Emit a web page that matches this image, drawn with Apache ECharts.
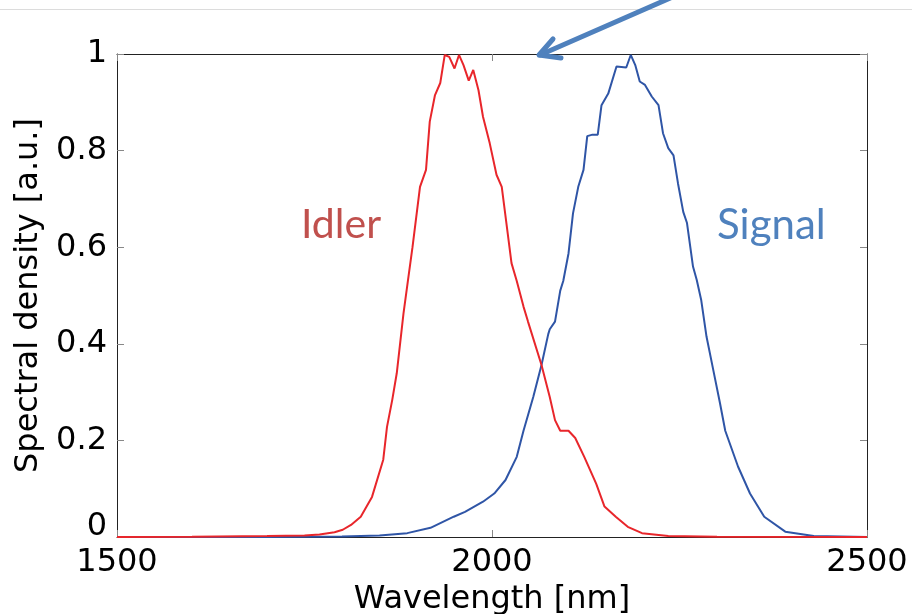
<!DOCTYPE html>
<html>
<head>
<meta charset="utf-8">
<script src="https://cdn.jsdelivr.net/npm/echarts@6/dist/echarts.min.js"></script>
<style>
  html, body { margin: 0; padding: 0; background: #ffffff; }
  #chart { width: 912px; height: 614px; }
</style>
</head>
<body>
<div id="chart"></div>
<script>
// Idler spectrum: wavelength (nm) and normalised spectral density
const idlerWavelength = [1500, 1600, 1700, 1750, 1770, 1790, 1801, 1812, 1825, 1840, 1855, 1860, 1867, 1873, 1882, 1888, 1894, 1904, 1912, 1917, 1924, 1931, 1937, 1943, 1950, 1956, 1962, 1969, 1975, 1982, 1988, 1997, 2006, 2013, 2020, 2026, 2033, 2042, 2048, 2066, 2077, 2084, 2091, 2102, 2111, 2123, 2139, 2150, 2165, 2181, 2200, 2235, 2300, 2500];
const idlerDensity = [0, 0.0005, 0.002, 0.003, 0.005, 0.010, 0.015, 0.025, 0.042, 0.083, 0.16, 0.228, 0.284, 0.339, 0.463, 0.532, 0.60, 0.725, 0.76, 0.86, 0.915, 0.94, 0.998, 0.994, 0.97, 0.998, 0.977, 0.945, 0.967, 0.925, 0.87, 0.815, 0.75, 0.725, 0.64, 0.567, 0.53, 0.477, 0.446, 0.356, 0.29, 0.242, 0.22, 0.22, 0.205, 0.166, 0.11, 0.063, 0.042, 0.021, 0.008, 0.002, 0.0005, 0];

// Signal spectrum
const signalWavelength = [1500, 1700, 1800, 1850, 1887, 1918, 1949, 1964, 1988, 2003, 2018, 2033, 2042, 2055, 2066, 2075, 2077, 2084, 2091, 2095, 2102, 2108, 2115, 2122, 2127, 2134, 2141, 2146, 2155, 2166, 2179, 2185, 2191, 2197, 2204, 2213, 2222, 2228, 2235, 2242, 2248, 2255, 2260, 2268, 2273, 2279, 2286, 2295, 2304, 2311, 2328, 2344, 2363, 2391, 2429, 2500];
const signalDensity = [0, 0, 0.001, 0.003, 0.008, 0.019, 0.042, 0.052, 0.073, 0.09, 0.118, 0.166, 0.22, 0.29, 0.356, 0.42, 0.43, 0.446, 0.51, 0.53, 0.587, 0.67, 0.725, 0.76, 0.83, 0.833, 0.833, 0.894, 0.918, 0.974, 0.972, 0.998, 0.977, 0.943, 0.936, 0.912, 0.894, 0.836, 0.805, 0.79, 0.732, 0.673, 0.65, 0.56, 0.532, 0.49, 0.415, 0.346, 0.277, 0.22, 0.146, 0.09, 0.042, 0.011, 0.002, 0];

// Axis ranges and ticks
const xTicks = [1500, 2000, 2500];
const yTicks = [0, 0.2, 0.4, 0.6, 0.8, 1];

const seriesLabels = ['Idler', 'Signal'];

const zip = (xs, ys) => xs.map((x, i) => [x, ys[i]]);

const chart = echarts.init(document.getElementById('chart'), null, { renderer: 'canvas' });

const axisFont = 'DejaVu Sans';

const baseX = {
  type: 'value',
  min: xTicks[0],
  max: xTicks[xTicks.length - 1],
  interval: xTicks[1] - xTicks[0],
  splitLine: { show: false },
  axisLine: { show: true, onZero: false, lineStyle: { color: '#222', width: 1 } },
  axisTick: { show: true, inside: true, length: 7, lineStyle: { color: '#888', width: 1 } }
};
const baseY = {
  type: 'value',
  min: yTicks[0],
  max: yTicks[yTicks.length - 1],
  interval: yTicks[1] - yTicks[0],
  splitLine: { show: false },
  axisLine: { show: true, onZero: false, lineStyle: { color: '#222', width: 1 } },
  axisTick: { show: true, inside: true, length: 7, lineStyle: { color: '#888', width: 1 } }
};

const option = {
  backgroundColor: '#ffffff',
  animation: false,
  grid: { left: 117, right: 45, top: 54, bottom: 77, containLabel: false, outerBoundsMode: 'none' },
  xAxis: [
    Object.assign({}, baseX, {
      position: 'bottom',
      name: 'Wavelength [nm]',
      nameLocation: 'middle',
      nameGap: 35,
      nameTextStyle: { fontFamily: axisFont, fontSize: 32, color: '#000' },
      axisLabel: {
        show: true, margin: 10, color: '#000',
        fontFamily: axisFont, fontSize: 32,
        formatter: v => String(v)
      }
    }),
    Object.assign({}, baseX, {
      position: 'top',
      axisLabel: { show: false }
    })
  ],
  yAxis: [
    Object.assign({}, baseY, {
      position: 'left',
      name: 'Spectral density [a.u.]',
      nameLocation: 'middle',
      nameGap: 72,
      nameTextStyle: { fontFamily: axisFont, fontSize: 32, color: '#000' },
      axisLabel: {
        show: true, margin: 10, color: '#000',
        fontFamily: axisFont, fontSize: 32, lineHeight: 20,
        verticalAlignMinLabel: 'bottom',
        formatter: v => String(Math.round(v * 10) / 10)
      }
    }),
    Object.assign({}, baseY, {
      position: 'right',
      axisLabel: { show: false }
    })
  ],
  series: [
    {
      name: seriesLabels[0],
      type: 'line',
      data: zip(idlerWavelength, idlerDensity),
      showSymbol: false,
      symbol: 'none',
      lineStyle: { color: '#e8262b', width: 2 },
      z: 3
    },
    {
      name: seriesLabels[1],
      type: 'line',
      data: zip(signalWavelength, signalDensity),
      showSymbol: false,
      symbol: 'none',
      lineStyle: { color: '#2f55a6', width: 2 },
      z: 2
    }
  ],
  graphic: [
    // thin rule across the top of the page
    {
      type: 'line', silent: true,
      shape: { x1: 0, y1: 9.5, x2: 912, y2: 9.5 },
      style: { stroke: '#dcdcdc', lineWidth: 1 }
    },
    // callout arrow pointing at the top edge of the plot
    {
      type: 'polyline', silent: true, z: 10,
      shape: { points: [[684, -8], [540, 55]] },
      style: { stroke: '#4f81bd', lineWidth: 5, lineCap: 'round' }
    },
    {
      type: 'polyline', silent: true, z: 10,
      shape: { points: [[553, 39], [539, 55], [561, 58]] },
      style: { stroke: '#4f81bd', lineWidth: 5, lineCap: 'round', lineJoin: 'round', fill: null }
    },
    {
      type: 'text', silent: true, z: 10,
      style: {
        text: seriesLabels[0], x: 301, y: 225,
        fontFamily: 'Lato', fontSize: 41,
        fill: '#c0504d', align: 'left', verticalAlign: 'middle'
      }
    },
    {
      type: 'text', silent: true, z: 10,
      style: {
        text: seriesLabels[1], x: 717, y: 225,
        fontFamily: 'Lato', fontSize: 42,
        fill: '#4f81bd', align: 'left', verticalAlign: 'middle'
      }
    }
  ]
};

chart.setOption(option);
</script>
</body>
</html>
